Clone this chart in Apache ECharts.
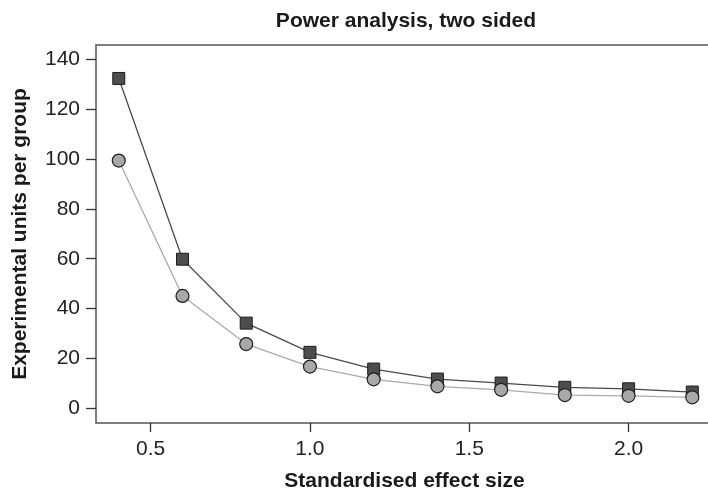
<!DOCTYPE html>
<html>
<head>
<meta charset="utf-8">
<script src="https://cdn.jsdelivr.net/npm/echarts@6/dist/echarts.min.js"></script>
<style>
html,body{margin:0;padding:0;background:#fff;}
#c{width:708px;height:495px;}
</style>
</head>
<body>
<div id="c"></div>
<script>
const effectSizes = [0.4, 0.6, 0.8, 1.0, 1.2, 1.4, 1.6, 1.8, 2.0, 2.2];
const squareSeries = [132.2, 59.8, 34.2, 22.5, 15.8, 11.8, 10.2, 8.5, 7.9, 6.6];
const circleSeries = [99.3, 45.1, 25.8, 16.8, 11.7, 8.9, 7.5, 5.4, 5.1, 4.5];
const xTicks = [0.5, 1.0, 1.5, 2.0];
const yTicks = [0, 20, 40, 60, 80, 100, 120, 140];

const chart = echarts.init(document.getElementById('c'), null, {renderer: 'canvas'});
const font = 'Liberation Sans, Arial, Helvetica, sans-serif';
const pair = (ys) => effectSizes.map((x, i) => [x, ys[i]]);

chart.setOption({
  animation: false,
  backgroundColor: '#fff',
  title: {
    text: 'Power analysis, two sided',
    left: 401, top: 6, textAlign: 'center',
    textStyle: {fontFamily: font, fontWeight: 'bold', fontSize: 21, color: '#1a1a1a'}
  },
  grid: {
    left: 96, right: -5, top: 45, bottom: 72,
    outerBoundsMode: 'none', containLabel: false,
    show: true, borderColor: '#555', borderWidth: 1.5, backgroundColor: 'transparent'
  },
  xAxis: {
    type: 'value', min: 0.3285, max: 2.265,
    name: 'Standardised effect size', nameLocation: 'middle', nameGap: 48,
    nameTextStyle: {fontFamily: font, fontWeight: 'bold', fontSize: 21, color: '#1a1a1a'},
    splitLine: {show: false},
    axisLine: {show: false, onZero: false},
    axisTick: {show: true, inside: false, length: 9, customValues: xTicks, lineStyle: {color: '#333', width: 1.3}},
    axisLabel: {customValues: xTicks, margin: 16, fontFamily: font, fontSize: 21, color: '#222',
      formatter: v => v.toFixed(1)}
  },
  yAxis: {
    type: 'value', min: -5.8, max: 145.6,
    name: 'Experimental units per group', nameLocation: 'middle', nameGap: 65,
    nameTextStyle: {fontFamily: font, fontWeight: 'bold', fontSize: 21, color: '#1a1a1a'},
    splitLine: {show: false},
    axisLine: {show: false, onZero: false},
    axisTick: {show: true, inside: false, length: 10, customValues: yTicks, lineStyle: {color: '#333', width: 1.3}},
    axisLabel: {customValues: yTicks, margin: 16, fontFamily: font, fontSize: 21, color: '#222'}
  },
  series: [
    {
      type: 'line', data: pair(squareSeries),
      symbol: 'rect', symbolSize: 12, showAllSymbol: true,
      lineStyle: {color: '#4a4a4a', width: 1.3},
      itemStyle: {color: '#4d4d4d', borderColor: '#1e1e1e', borderWidth: 1},
      z: 2
    },
    {
      type: 'line', data: pair(circleSeries),
      symbol: 'circle', symbolSize: 13, showAllSymbol: true,
      lineStyle: {color: '#aaaaaa', width: 1.3},
      itemStyle: {color: '#a8a8a8', borderColor: '#1e1e1e', borderWidth: 1.2},
      z: 3
    }
  ]
});
</script>
</body>
</html>
